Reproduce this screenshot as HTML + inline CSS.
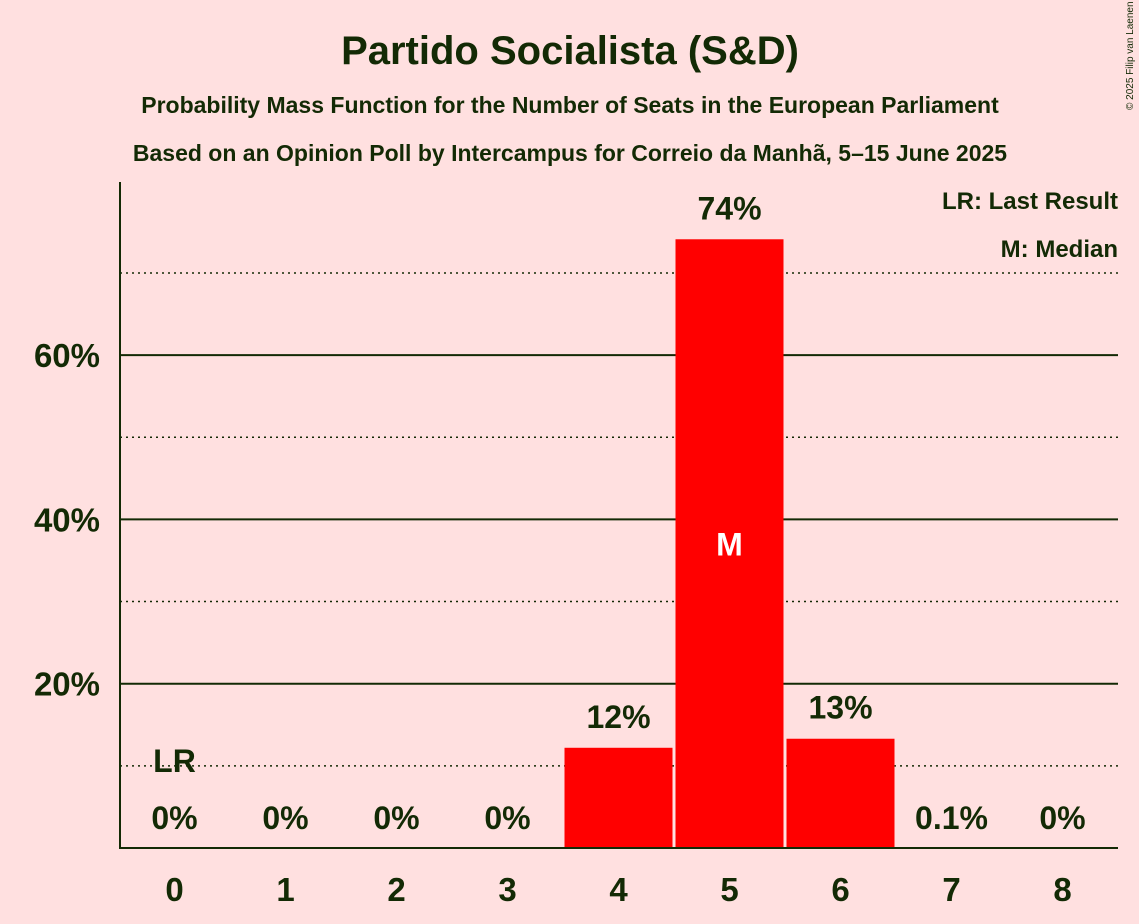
<!DOCTYPE html>
<html><head><meta charset="utf-8"><style>
body{margin:0;background:#FFE0E0;}
svg{display:block;font-family:"Liberation Sans",sans-serif;}
</style></head><body>
<svg width="1139" height="924" viewBox="0 0 1139 924">
<rect width="1139" height="924" fill="#FFE0E0"/>
<text x="570" y="64" text-anchor="middle" font-size="40" font-weight="bold" fill="#132A05">Partido Socialista (S&amp;D)</text>
<text x="570" y="113" text-anchor="middle" font-size="23" font-weight="bold" fill="#132A05">Probability Mass Function for the Number of Seats in the European Parliament</text>
<text x="570" y="161" text-anchor="middle" font-size="23" font-weight="bold" fill="#132A05">Based on an Opinion Poll by Intercampus for Correio da Manhã, 5–15 June 2025</text>
<text x="1133" y="110" font-size="10" fill="#132A05" transform="rotate(-90 1133 110)">© 2025 Filip van Laenen</text>
<g id="grid"></g>
<g id="bars"></g>
<g id="labels"></g>
<line x1="120" y1="182" x2="120" y2="848" stroke="#132A05" stroke-width="2"/>
<line x1="119" y1="848" x2="1118" y2="848" stroke="#132A05" stroke-width="2"/>
<text x="1118" y="209" text-anchor="end" font-size="24" font-weight="bold" fill="#132A05">LR: Last Result</text>
<text x="1118" y="257" text-anchor="end" font-size="24" font-weight="bold" fill="#132A05">M: Median</text>
</svg>
<script>
const categories=[0,1,2,3,4,5,6,7,8];
const values=[0,0,0,0,12.2,74.1,13.3,0.1,0];
const valueLabels=["0%","0%","0%","0%","12%","74%","13%","0.1%","0%"];
const yTicks=[10,20,30,40,50,60,70];
const yTickLabels={20:"20%",40:"40%",60:"60%"};
const lastResult=0, median=5;
const NS="http://www.w3.org/2000/svg";
const x0=120,step=111,y0=848,pxPer=8.215;
const xc=i=>x0+step*(i+0.5)-1;
const y=v=>y0-v*pxPer;
function mk(t,a,p){const e=document.createElementNS(NS,t);for(const k in a)e.setAttribute(k,a[k]);p.appendChild(e);return e;}
const g=document.getElementById('grid'),b=document.getElementById('bars'),l=document.getElementById('labels');
yTicks.forEach(t=>{
 const solid=t%20===0;
 const ln=mk('line',{x1:120,x2:1118,y1:y(t),y2:y(t),stroke:'#132A05','stroke-width':solid?2:1.5,'stroke-dasharray':solid?'none':'2,4'},g);
 
 
 if(yTickLabels[t]){const tx=mk('text',{x:100,y:y(t)+12,'text-anchor':'end','font-size':33,'font-weight':'bold',fill:'#132A05'},g);tx.textContent=yTickLabels[t];
 
 }
});
categories.forEach((c,i)=>{
 const v=values[i];
 if(v>0.5){const r=mk('rect',{x:xc(i)-54,y:y(v),width:108,height:y0-y(v),fill:'#FF0000'},b);
 
 }
 const ly=v>5?y(v)-20:y0-19;
 const t=mk('text',{x:xc(i),y:ly,'text-anchor':'middle','font-size':32,'font-weight':'bold',fill:'#132A05'},l);
 t.textContent=valueLabels[i];
 
 
 const xt=mk('text',{x:xc(i),y:901,'text-anchor':'middle','font-size':33,'font-weight':'bold',fill:'#132A05'},l);
 xt.textContent=c;
 
 
});
const lr=mk('text',{x:xc(lastResult),y:772,'text-anchor':'middle','font-size':32,'font-weight':'bold',fill:'#132A05'},l);
lr.textContent='LR';


const m=mk('text',{x:xc(median),y:y(values[median]/2)+12,'text-anchor':'middle','font-size':32,'font-weight':'bold',fill:'#FFFFFF'},l);
m.textContent='M';


</script>
</body></html>
